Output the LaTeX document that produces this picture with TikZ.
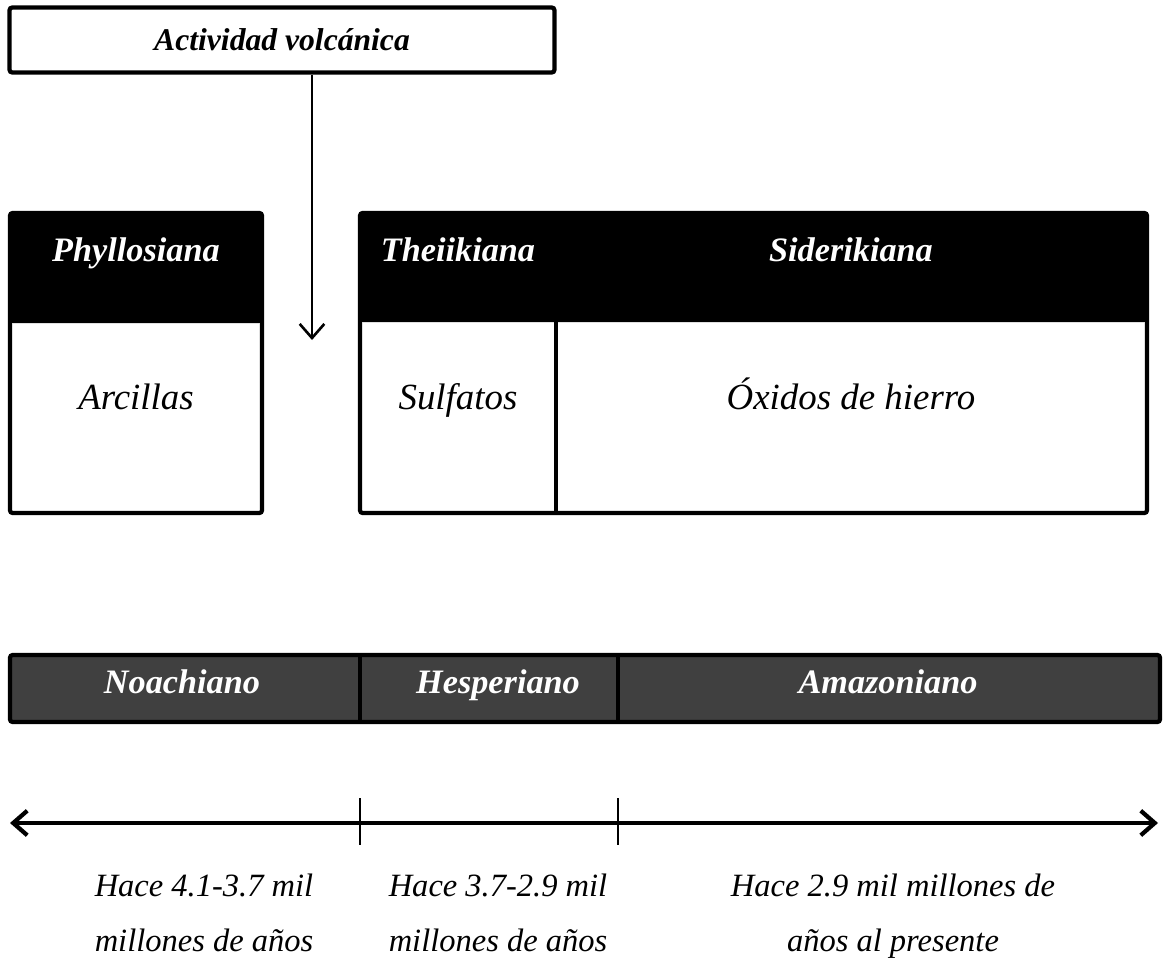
\documentclass[tikz,border=0pt]{standalone}
\usepackage{fontspec}
\setmainfont{Liberation Serif}
\usetikzlibrary{arrows.meta}

\begin{document}
\begin{tikzpicture}[x=0.02cm,y=-0.02cm,
	caja/.style={draw=black,line width=2.4pt,rounded corners=1.5pt},
	cabeza/.style={text=white,text height=1.5ex,text depth=.45ex,font=\fontsize{19.5}{22}\selectfont\bfseries\itshape},
	texto/.style={text height=1.5ex,text depth=.45ex,font=\fontsize{21}{24}\selectfont\itshape},
	fecha/.style={align=center,font=\fontsize{18.5}{31}\selectfont\itshape}]
	\useasboundingbox (0,0) rectangle (1163,966);
	% actividad volcanica
	\node[caja,fill=white,minimum width=10.9cm,minimum height=1.3cm,
		font=\fontsize{18}{20}\selectfont\bfseries\itshape] (volc) at (282,40) {Actividad volc\'anica};
	\coordinate (flecha) at (312,340);
	\draw[line width=1.5pt,-{Straight Barb[length=8pt,width=14pt,line width=1.5pt]}] (volc.south -| flecha) -- (flecha);
	% Phyllosiana
	\fill[rounded corners=1.5pt] (10,213) rectangle (262,323);
	\draw[caja] (10,213) rectangle (262,513);
	\node[cabeza] (phyllo) at (136,257) {Phyllosiana};
	\node[texto] (arcillas) at (136,405) {Arcillas};
	% Theiikiana y Siderikiana
	\fill[rounded corners=1.5pt] (360,213) rectangle (1147,322);
	\draw[caja] (360,213) rectangle (1147,513);
	\draw[line width=2.4pt] (556,322) -- (556,513);
	\node[cabeza] (theii) at (458,257) {Theiikiana};
	\node[cabeza] (sider) at (851,257) {Siderikiana};
	\node[texto] (sulf) at (458,405) {Sulfatos};
	\node[texto] (oxid) at (851,405) {\'Oxidos de hierro};
	% periodos
	\draw[caja,fill=black!75] (10,655) rectangle (1160,722);
	\draw[line width=2.4pt] (360,655) -- (360,722);
	\draw[line width=2.4pt] (618,655) -- (618,722);
	\node[cabeza] (noach) at (182,689) {Noachiano};
	\node[cabeza] (hesp) at (498,689) {Hesperiano};
	\node[cabeza] (amaz) at (888,689) {Amazoniano};
	% linea de tiempo
	\coordinate (izq) at (10,823);
	\coordinate (der) at (1158,823);
	\draw[line width=2.4pt,{Straight Barb[length=8pt,width=14pt]}-{Straight Barb[length=8pt,width=14pt]}] (izq) -- (der);
	\draw[line width=1.2pt] (360,798) -- (360,845);
	\draw[line width=1.2pt] (618,798) -- (618,845);
	\node[fecha] (f1) at (204,913) {Hace 4.1-3.7 mil\\millones de a\~nos};
	\node[fecha] (f2) at (498,913) {Hace 3.7-2.9 mil\\millones de a\~nos};
	\node[fecha] (f3) at (893,916) {Hace 2.9 mil millones de\\a\~nos al presente};
\end{tikzpicture}
\end{document}
